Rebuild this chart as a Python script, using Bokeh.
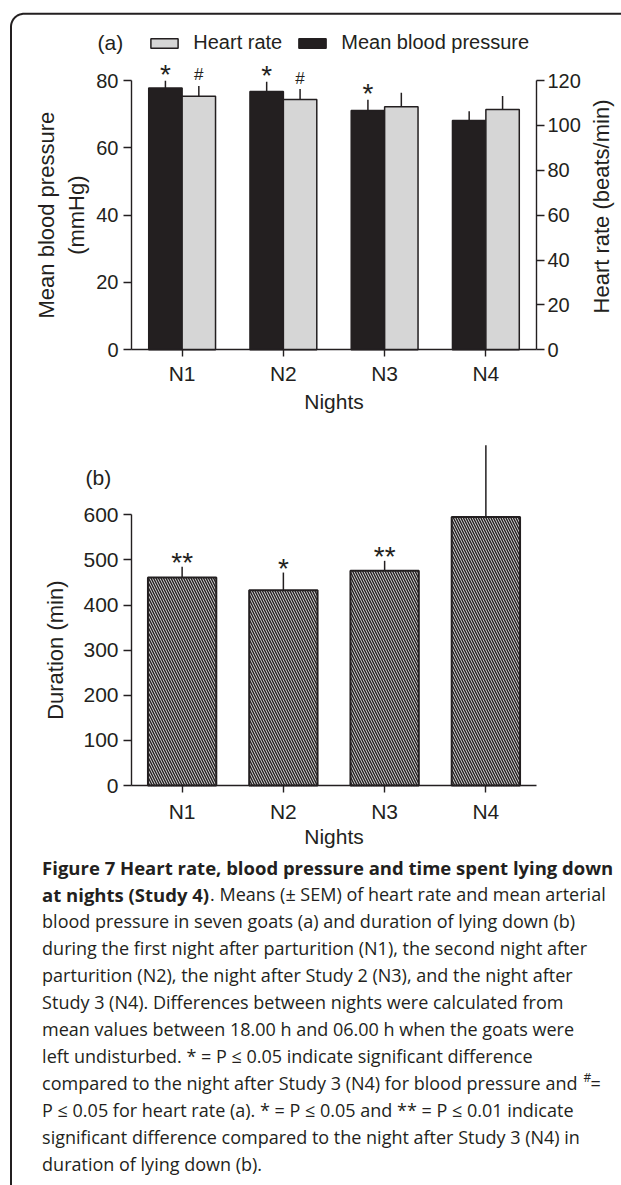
import math
from bokeh.plotting import figure
from bokeh.models import Range1d, LinearAxis, Legend, LegendItem, ColumnDataSource, FixedTicker
from bokeh.transform import dodge
from bokeh.core.properties import value
from bokeh.embed import file_html
from bokeh.resources import INLINE

# ---------------- data ----------------
nights = ["N1", "N2", "N3", "N4"]
mbp = [77.8, 76.7, 71.1, 68.1]          # mean blood pressure (mmHg)
mbp_sem = [2.1, 2.9, 3.2, 2.8]
hr = [113.0, 111.5, 108.3, 107.1]       # heart rate (beats/min)
hr_sem = [4.6, 4.7, 6.2, 6.0]
mbp_sig = ["*", "*", "*", ""]
hr_sig = ["#", "#", "", ""]
duration = [461, 433, 476, 595]         # duration lying down (min)
duration_sem = [24, 39, 22, 159]
duration_sig = ["**", "*", "**", ""]
mbp_ticks = [0, 20, 40, 60, 80]
hr_ticks = [0, 20, 40, 60, 80, 100, 120]
dur_ticks = [0, 100, 200, 300, 400, 500, 600]

caption_bold = [
    "Figure 7 Heart rate, blood pressure and time spent lying down",
    "at nights (Study 4)",
]
caption_normal = [
    "",
    ". Means (\u00b1 SEM) of heart rate and mean arterial",
    "blood pressure in seven goats (a) and duration of lying down (b)",
    "during the first night after parturition (N1), the second night after",
    "parturition (N2), the night after Study 2 (N3), and the night after",
    "Study 3 (N4). Differences between nights were calculated from",
    "mean values between 18.00 h and 06.00 h when the goats were",
    "left undisturbed. * = P \u2264 0.05 indicate significant difference",
    "compared to the night after Study 3 (N4) for blood pressure and",
    "P \u2264 0.05 for heart rate (a). * = P \u2264 0.05 and ** = P \u2264 0.01 indicate",
    "significant difference compared to the night after Study 3 (N4) in",
    "duration of lying down (b).",
]

# ---------------- style / page geometry ----------------
INK = "#231f20"
BAR_BLACK = "#231f20"
BAR_GRAY = "#d6d6d6"
HATCH_BG = "#d4d4d4"
FONT = "Liberation Sans"
CAP_FONT = "Open Sans"

PAGE_L, PAGE_T = 0, 0
W, H = 621, 1185
PAGE_R, PAGE_B = PAGE_L + W, PAGE_T + H
AX_L, AX_R = 131.0, 536.0          # page x of the category band edges
A_Y0, A_Y80 = 349.3, 80.0          # page y of 0 and 80 mmHg
B_Y0, B_Y600 = 785.0, 514.3        # page y of 0 and 600 min

n = len(nights)
xpos = [i + 1 for i in range(n)]
sx = (AX_R - AX_L) / n
x_lo = 0.5 - (AX_L - PAGE_L) / sx
x_hi = n + 0.5 + (PAGE_R - AX_R) / sx
sa = (A_Y0 - A_Y80) / 80.0
a_lo, a_hi = -(PAGE_B - A_Y0) / sa, (A_Y0 - PAGE_T) / sa
sb = (B_Y0 - B_Y600) / 600.0
b_lo, b_hi = -(PAGE_B - B_Y0) / sb, (B_Y0 - PAGE_T) / sb
HR_PER_MMHG = 120 / 80

p = figure(width=W, height=H, x_range=Range1d(x_lo, x_hi), y_range=Range1d(a_lo, a_hi),
           x_axis_type=None, y_axis_type=None, min_border=0, title=None,
           output_backend="svg", toolbar_location=None)
p.extra_y_ranges = {"hr": Range1d(a_lo * HR_PER_MMHG, a_hi * HR_PER_MMHG),
                    "dur": Range1d(b_lo, b_hi),
                    "px": Range1d(PAGE_B, PAGE_T)}
p.extra_x_ranges = {"px": Range1d(PAGE_L, PAGE_R)}
p.outline_line_color = None
p.background_fill_color = "white"
p.border_fill_color = "white"


def style_axis(ax, size="20px", tick_out=8, standoff=4):
    ax.axis_line_color = INK
    ax.axis_line_width = 1.4
    ax.major_tick_line_color = INK
    ax.major_tick_line_width = 1.4
    ax.major_tick_in = 0
    ax.major_tick_out = tick_out
    ax.minor_tick_line_color = None
    ax.major_label_text_font = FONT
    ax.major_label_text_font_size = size
    ax.major_label_text_color = INK
    ax.major_label_standoff = standoff
    return ax


night_labels = {x: lab for x, lab in zip(xpos, nights)}

# ---------------- (a) heart rate & blood pressure ----------------
src_a = ColumnDataSource(dict(
    x=xpos, mbp=mbp, mbp_hi=[m + s for m, s in zip(mbp, mbp_sem)],
    hr=hr, hr_hi=[h + s for h, s in zip(hr, hr_sem)],
    mbp_sig=mbp_sig, hr_sig=hr_sig,
))
xb = dodge("x", -0.165)
xg = dodge("x", 0.165)

r_mbp = p.vbar(x=xb, top="mbp", width=0.33, source=src_a, fill_color=BAR_BLACK,
               line_color=INK, line_width=1.5)
r_hr = p.vbar(x=xg, top="hr", width=0.33, source=src_a, y_range_name="hr",
              fill_color=BAR_GRAY, line_color=INK, line_width=1.5)
p.segment(x0=xb, y0="mbp", x1=xb, y1="mbp_hi", source=src_a, line_color=INK, line_width=1.5)
p.segment(x0=xg, y0="hr", x1=xg, y1="hr_hi", source=src_a, y_range_name="hr",
          line_color=INK, line_width=1.5)
p.text(x=xb, y="mbp_hi", text="mbp_sig", source=src_a, text_align="center",
       text_baseline="alphabetic", y_offset=-6, text_font=value(FONT),
       text_font_size="28px", text_color=INK)
p.text(x=xg, y="hr_hi", text="hr_sig", source=src_a, y_range_name="hr", text_align="center",
       text_baseline="alphabetic", y_offset=-11, text_font=value(FONT),
       text_font_size="17px", text_color=INK)

ax_a_left = style_axis(LinearAxis(fixed_location=0.5, bounds=(0, 80),
                                  ticker=FixedTicker(ticks=mbp_ticks)), standoff=5)
p.add_layout(ax_a_left, "left")
ax_a_right = style_axis(LinearAxis(y_range_name="hr", fixed_location=n + 0.5, bounds=(0, 120),
                                   ticker=FixedTicker(ticks=hr_ticks)), standoff=3)
p.add_layout(ax_a_right, "right")
ax_a_x = style_axis(LinearAxis(fixed_location=0, bounds=(0.5, n + 0.5),
                               ticker=FixedTicker(ticks=xpos),
                               major_label_overrides=night_labels),
                    size="21px", tick_out=7, standoff=5)
p.add_layout(ax_a_x, "below")

legend = Legend(items=[LegendItem(label="Heart rate", renderers=[r_hr]),
                       LegendItem(label="Mean blood pressure", renderers=[r_mbp])],
                orientation="horizontal", location=(147.3 - PAGE_L, PAGE_B - 54),
                glyph_width=34, glyph_height=12, label_standoff=12, spacing=13,
                padding=0, margin=0, border_line_color=None, background_fill_alpha=0,
                label_text_font=FONT, label_text_font_size="20px", label_text_color=INK)
p.add_layout(legend)

# ---------------- (b) duration of lying down ----------------
src_b = ColumnDataSource(dict(
    x=xpos, dur=duration, dur_hi=[d + s for d, s in zip(duration, duration_sem)],
    dur_sig=duration_sig,
))
p.segment(x0="x", y0="dur", x1="x", y1="dur_hi", source=src_b, y_range_name="dur",
          line_color=INK, line_width=1.5)
p.vbar(x="x", top="dur", width=0.675, source=src_b, y_range_name="dur", fill_color=HATCH_BG,
       hatch_pattern="\\", hatch_color=INK, hatch_scale=5, hatch_weight=1.4,
       line_color=INK, line_width=2)
p.text(x="x", y="dur_hi", text="dur_sig", source=src_b, y_range_name="dur", text_align="center",
       text_baseline="alphabetic", y_offset=-4, text_font=value(FONT),
       text_font_size="28px", text_color=INK)

ax_b_left = style_axis(LinearAxis(y_range_name="dur", fixed_location=0.5, bounds=(0, 600),
                                  ticker=FixedTicker(ticks=dur_ticks)), size="21px", standoff=5)
p.add_layout(ax_b_left, "left")
ax_b_x = style_axis(LinearAxis(y_range_name="dur", fixed_location=0, bounds=(0.5, n + 0.5),
                               ticker=FixedTicker(ticks=xpos),
                               major_label_overrides=night_labels),
                    size="21px", tick_out=7, standoff=7)
p.add_layout(ax_b_x, "below")


# ---------------- labels (page-pixel coordinates) ----------------
def ptext(x, y, txt, size, angle=0.0, align="center", style="normal", font=FONT):
    p.text(x=[x], y=[y], text=[txt], angle=angle, x_range_name="px", y_range_name="px",
           text_align=align, text_baseline="middle", text_font=value(font),
           text_font_style=style, text_font_size=size, text_color=INK)


mid_x = (AX_L + AX_R) / 2
ptext(97, 42, "(a)", "21px", align="left")
ptext(46, (A_Y0 + A_Y80) / 2, "Mean blood pressure", "22px", angle=math.pi / 2)
ptext(76, (A_Y0 + A_Y80) / 2, "(mmHg)", "22px", angle=math.pi / 2)
ptext(601, 206, "Heart rate (beats/min)", "22px", angle=math.pi / 2)
ptext(mid_x, 400.5, "Nights", "21px")

ptext(85, 477, "(b)", "21px", align="left")
ptext(55, (B_Y0 + B_Y600) / 2, "Duration (min)", "22px", angle=math.pi / 2)
ptext(mid_x, 836, "Nights", "21px")

# caption
CAP_X = 41.6
line_y = [866.5 + i * 27.0 for i in range(len(caption_normal))]
p.text(x=[CAP_X] * len(caption_bold), y=line_y[:len(caption_bold)], text=caption_bold,
       x_range_name="px", y_range_name="px", text_font=value(CAP_FONT),
       text_font_style="bold", text_font_size="18.5px", text_color=INK,
       text_baseline="middle", text_align="left")
normal_x = [CAP_X] * len(caption_normal)
normal_x[1] = CAP_X + 168
p.text(x=normal_x, y=line_y, text=caption_normal, x_range_name="px", y_range_name="px",
       text_font=value(CAP_FONT), text_font_size="18px", text_color=INK,
       text_baseline="middle", text_align="left")
ptext(583, line_y[8] - 6, "#", "12px", align="left", font=CAP_FONT)
ptext(590, line_y[8], "=", "18px", align="left", font=CAP_FONT)

# frame (rounded top-left corner)
FX, FY, FR = 10.5, 13.3, 13.0
arc = [(FX + FR - FR * math.cos(t * math.pi / 40), FY + FR - FR * math.sin(t * math.pi / 40))
       for t in range(21)]
fx = [FX] + [a for a, _ in arc] + [PAGE_R]
fy = [PAGE_B] + [b for _, b in arc] + [FY]
p.line(fx, fy, x_range_name="px", y_range_name="px", line_color=INK, line_width=2)

open("out.html", "w").write(file_html(p, INLINE))
